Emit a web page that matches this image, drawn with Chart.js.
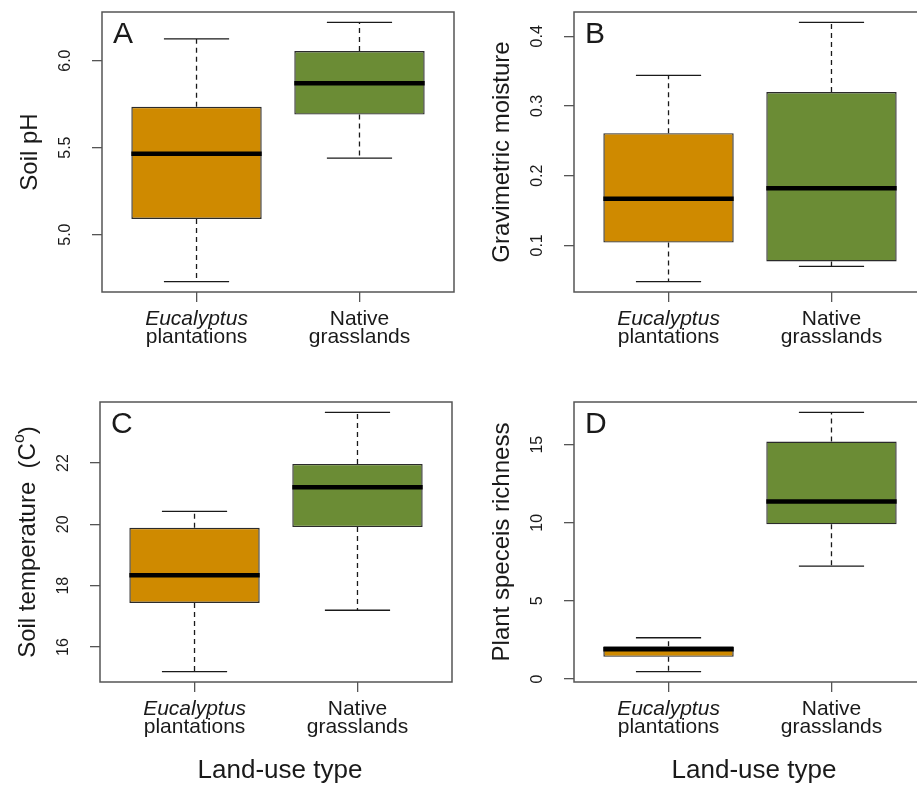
<!DOCTYPE html>
<html>
<head>
<meta charset="utf-8">
<script src="https://cdn.jsdelivr.net/npm/chart.js@4.4.1/dist/chart.umd.min.js"></script>
<style>
html,body{margin:0;padding:0;background:#fff;overflow:hidden;width:917px;height:785px;position:relative;}
canvas{position:absolute;}
</style>
</head>
<body>
<canvas id="cA" width="460" height="380" style="left:0px;top:0px"></canvas>
<canvas id="cB" width="480" height="380" style="left:460px;top:0px"></canvas>
<canvas id="cC" width="460" height="395" style="left:0px;top:390px"></canvas>
<canvas id="cD" width="480" height="395" style="left:460px;top:390px"></canvas>
<script>
// ---------- data ----------
const catLine1 = ["Eucalyptus", "Native"];
const catLine2 = ["plantations", "grasslands"];
const catItalic = [true, false];
const boxColors = ["#CF8A00", "#6B8C35"];

// five-number summaries: [lower whisker, Q1, median, Q3, upper whisker]
const phEucalyptus = [4.73, 5.09, 5.465, 5.735, 6.125];
const phNative = [5.44, 5.69, 5.87, 6.055, 6.22];
const moistEucalyptus = [0.048, 0.104, 0.167, 0.261, 0.344];
const moistNative = [0.070, 0.077, 0.182, 0.320, 0.420];
const tempEucalyptus = [15.2, 17.44, 18.34, 19.89, 20.42];
const tempNative = [17.2, 19.91, 21.21, 21.97, 23.65];
const richEucalyptus = [0.47, 1.42, 1.9, 2.1, 2.64];
const richNative = [7.23, 9.9, 11.37, 15.2, 17.07];

const phTicks = [5.0, 5.5, 6.0];
const phTickLabels = ["5.0", "5.5", "6.0"];
const moistTicks = [0.1, 0.2, 0.3, 0.4];
const moistTickLabels = ["0.1", "0.2", "0.3", "0.4"];
const tempTicks = [16, 18, 20, 22];
const tempTickLabels = ["16", "18", "20", "22"];
const richTicks = [0, 5, 10, 15];
const richTickLabels = ["0", "5", "10", "15"];

const xTitle = "Land-use type";

// ---------- drawing ----------
const FONT = "'Liberation Sans', Arial, Helvetica, sans-serif";
const TEXT = "#1a1a1a";
const FRAME = "#555555";
const BOXW = 0.8;      // box width in category units
const CAPW = 0.4;      // staple width in category units

function rangeOf(groups) {
  let lo = Infinity, hi = -Infinity;
  groups.forEach(g => { lo = Math.min(lo, g[0]); hi = Math.max(hi, g[4]); });
  const pad = (hi - lo) * 0.04;
  return [lo - pad, hi + pad];
}

function makeTextPlugin(cfg) {
  return {
    id: 'panelText',
    afterDraw(chart) {
      const ctx = chart.ctx;
      const a = chart.chartArea;
      const xs = chart.scales.x, ys = chart.scales.y;
      ctx.save();
      // plot frame
      ctx.strokeStyle = FRAME;
      ctx.lineWidth = 1.5;
      ctx.strokeRect(a.left, a.top, a.right - a.left, a.bottom - a.top);
      ctx.fillStyle = TEXT;
      // y tick labels (rotated)
      ctx.font = "16px " + FONT;
      ctx.textAlign = "center";
      ctx.textBaseline = "middle";
      cfg.ticks.forEach((v, i) => {
        const py = ys.getPixelForValue(v);
        ctx.save();
        ctx.translate(a.left - 36, py);
        ctx.rotate(-Math.PI / 2);
        ctx.fillText(cfg.tickLabels[i], 0, 0);
        ctx.restore();
      });
      // y axis title (rotated, may have superscript)
      ctx.save();
      ctx.translate(a.left - 72, (a.top + a.bottom) / 2);
      ctx.rotate(-Math.PI / 2);
      ctx.textAlign = "left";
      ctx.textBaseline = "middle";
      let total = 0;
      cfg.title.forEach(p => { ctx.font = p.size + "px " + FONT; total += ctx.measureText(p.t).width; });
      let cx = -total / 2;
      cfg.title.forEach(p => {
        ctx.font = p.size + "px " + FONT;
        ctx.fillText(p.t, cx, -(p.rise || 0));
        cx += ctx.measureText(p.t).width;
      });
      ctx.restore();
      // category labels
      ctx.textAlign = "center";
      ctx.textBaseline = "alphabetic";
      catLine1.forEach((t, i) => {
        const px = xs.getPixelForValue(i + 1);
        ctx.font = (catItalic[i] ? "italic " : "") + "21px " + FONT;
        ctx.fillText(t, px, a.bottom + 33);
        ctx.font = "21px " + FONT;
        ctx.fillText(catLine2[i], px, a.bottom + 51);
      });
      // x axis title
      if (cfg.showXTitle) {
        ctx.font = "26px " + FONT;
        ctx.fillText(xTitle, (a.left + a.right) / 2 + 4, a.bottom + 96);
      }
      // panel letter
      ctx.textAlign = "left";
      ctx.font = "30px " + FONT;
      ctx.fillText(cfg.letter, a.left + 11, a.top + 31);
      ctx.restore();
    }
  };
}

function makePanel(id, groups, ticks, tickLabels, title, letter, L, showXTitle) {
  const [ymin, ymax] = rangeOf(groups);
  const boxes = groups.map((g, i) => ({ x: i + 1, y: [g[1], g[3]] }));
  const whisk = [], caps = [], meds = [];
  groups.forEach((g, i) => {
    const c = i + 1;
    whisk.push({ x: c, y: g[3] }, { x: c, y: g[4] }, { x: c, y: null },
               { x: c, y: g[1] }, { x: c, y: g[0] }, { x: c, y: null });
    caps.push({ x: c - CAPW / 2, y: g[4] }, { x: c + CAPW / 2, y: g[4] }, { x: c, y: null },
              { x: c - CAPW / 2, y: g[0] }, { x: c + CAPW / 2, y: g[0] }, { x: c, y: null });
    meds.push({ x: c - BOXW / 2, y: g[2] }, { x: c + BOXW / 2, y: g[2] }, { x: c, y: null });
  });
  const lineBase = { type: 'line', pointRadius: 0, pointHoverRadius: 0, fill: false, tension: 0, spanGaps: false };
  new Chart(document.getElementById(id), {
    type: 'bar',
    data: {
      datasets: [
        Object.assign({}, lineBase, { data: meds, borderColor: '#000000', borderWidth: 4.5, order: 0 }),
        { type: 'bar', data: boxes, backgroundColor: boxColors, borderColor: '#2b2b2b', borderWidth: 1.4,
          borderSkipped: false, barPercentage: BOXW, categoryPercentage: 1, order: 1 },
        Object.assign({}, lineBase, { data: whisk, borderColor: '#1a1a1a', borderWidth: 1.3, borderDash: [5, 4], order: 2 }),
        Object.assign({}, lineBase, { data: caps, borderColor: '#1a1a1a', borderWidth: 1.3, order: 3 })
      ]
    },
    options: {
      responsive: false,
      animation: false,
      devicePixelRatio: 1,
      layout: { padding: { top: L.padTop, right: L.padRight, left: 0, bottom: 0 } },
      plugins: { legend: { display: false }, tooltip: { enabled: false } },
      events: [],
      scales: {
        x: {
          type: 'linear', min: 0.42, max: 2.58, offset: false,
          afterBuildTicks: s => { s.ticks = [{ value: 1 }, { value: 2 }]; },
          afterFit: s => { s.height = L.xH; },
          ticks: { display: false },
          grid: { display: true, drawOnChartArea: false, drawTicks: true, tickLength: 10, color: FRAME, lineWidth: 1.3, offset: false },
          border: { display: false }
        },
        y: {
          type: 'linear', min: ymin, max: ymax, beginAtZero: false,
          afterBuildTicks: s => { s.ticks = ticks.map(v => ({ value: v })); },
          afterFit: s => { s.width = L.yW; },
          ticks: { display: false },
          grid: { display: true, drawOnChartArea: false, drawTicks: true, tickLength: 10, color: FRAME, lineWidth: 1.3 },
          border: { display: false }
        }
      }
    },
    plugins: [makeTextPlugin({ ticks, tickLabels, title, letter, showXTitle })]
  });
}

makePanel('cA', [phEucalyptus, phNative], phTicks, phTickLabels,
  [{ t: 'Soil pH', size: 24 }], 'A', { yW: 102, padTop: 12, padRight: 6, xH: 88 }, false);
makePanel('cB', [moistEucalyptus, moistNative], moistTicks, moistTickLabels,
  [{ t: 'Gravimetric moisture', size: 24 }], 'B', { yW: 114, padTop: 12, padRight: 14, xH: 88 }, false);
makePanel('cC', [tempEucalyptus, tempNative], tempTicks, tempTickLabels,
  [{ t: 'Soil temperature  (C', size: 24 }, { t: 'o', size: 16, rise: 8 }, { t: ')', size: 24 }], 'C',
  { yW: 100, padTop: 12, padRight: 8, xH: 103 }, true);
makePanel('cD', [richEucalyptus, richNative], richTicks, richTickLabels,
  [{ t: 'Plant speceis richness', size: 24 }], 'D', { yW: 114, padTop: 12, padRight: 14, xH: 103 }, true);
</script>
</body>
</html>
